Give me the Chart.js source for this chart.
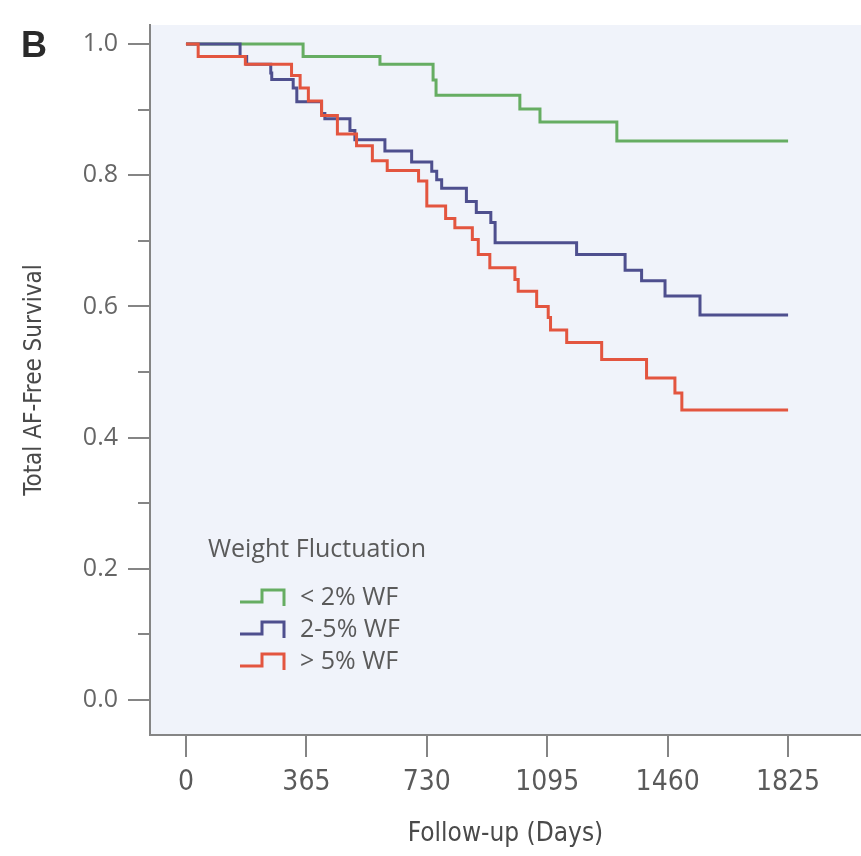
<!DOCTYPE html>
<html>
<head>
<meta charset="utf-8">
<script src="https://cdn.jsdelivr.net/npm/chart.js@4.4.1/dist/chart.umd.min.js"></script>
<style>
  html, body { margin: 0; padding: 0; background: #fff; }
  #wrap { width: 861px; height: 856px; position: relative; }
</style>
</head>
<body>
<div id="wrap"><canvas id="km"></canvas></div>
<script>
// day of each step, and AF-free survival from that day on
const lowDays = [0, 355, 588, 749, 758, 1012, 1073, 1306, 1825];
const lowSurv = [1.0, 0.981, 0.969, 0.945, 0.922, 0.901, 0.881, 0.852, 0.852];

const midDays = [0, 164, 184, 257, 260, 325, 336, 411, 421, 497, 512, 603, 684, 745, 760, 775,
  850, 880, 924, 937, 1184, 1331, 1381, 1452, 1558, 1825];
const midSurv = [1.0, 0.981, 0.969, 0.956, 0.946, 0.933, 0.912, 0.894, 0.886, 0.868, 0.854, 0.837, 0.820, 0.806, 0.793, 0.780,
  0.760, 0.743, 0.728, 0.697, 0.679, 0.655, 0.639, 0.616, 0.587, 0.587];

const highDays = [0, 37, 180, 320, 346, 371, 411, 459, 517, 565, 610, 705, 730, 787, 815, 868, 886,
  921, 997, 1007, 1063, 1098, 1105, 1154, 1260, 1396, 1482, 1503, 1825];
const highSurv = [1.0, 0.981, 0.969, 0.952, 0.933, 0.913, 0.891, 0.863, 0.845, 0.822, 0.807, 0.791, 0.753, 0.734, 0.720, 0.702, 0.679,
  0.659, 0.641, 0.623, 0.600, 0.583, 0.564, 0.545, 0.519, 0.491, 0.468, 0.442, 0.442];

const groupLabels = ['< 2% WF', '2-5% WF', '> 5% WF'];
const groupColors = ['#66ad62', '#4e4f8e', '#e3553f'];

const xTicks = [0, 365, 730, 1095, 1460, 1825];
const yMajor = [0, 0.2, 0.4, 0.6, 0.8, 1.0];
const yMinor = [0.1, 0.3, 0.5, 0.7, 0.9];

const axisGray = '#858585';
const textGray = '#5a5a5a';
const narrow = "'Liberation Sans Narrow', 'DejaVu Sans Condensed', 'Roboto', sans-serif";

function steps(days, surv) {
  return days.map((d, i) => ({ x: d, y: surv[i] }));
}

// light panel behind the curves
const plotBg = {
  id: 'plotBg',
  beforeDraw(chart) {
    const { ctx, chartArea: a } = chart;
    ctx.save();
    ctx.fillStyle = '#f0f3fa';
    ctx.fillRect(a.left, a.top, a.right - a.left, a.bottom - a.top);
    ctx.restore();
  }
};

// minor ticks, panel letter and the legend inside the plot
const extras = {
  id: 'extras',
  afterDraw(chart) {
    const { ctx, chartArea: a, scales: { y } } = chart;
    ctx.save();
    ctx.strokeStyle = axisGray;
    ctx.lineWidth = 2;
    yMinor.forEach(v => {
      const py = Math.round(y.getPixelForValue(v));
      ctx.beginPath();
      ctx.moveTo(a.left - 12, py);
      ctx.lineTo(a.left, py);
      ctx.stroke();
    });

    ctx.fillStyle = '#2a2a2a';
    ctx.font = "bold 36px 'Liberation Sans'";
    ctx.textBaseline = 'alphabetic';
    ctx.textAlign = 'left';
    ctx.fillText('B', 21, 57);

    // legend
    ctx.fillStyle = textGray;
    ctx.font = "25px 'Open Sans'";
    ctx.textBaseline = 'middle';
    ctx.fillText('Weight Fluctuation', a.left + 58, 550);
    chart.data.datasets.forEach((ds, i) => {
      const cy = 598 + i * 32;
      const x0 = a.left + 90;
      ctx.strokeStyle = ds.borderColor;
      ctx.lineWidth = 3;
      ctx.beginPath();
      ctx.moveTo(x0, cy + 4);
      ctx.lineTo(x0 + 22, cy + 4);
      ctx.lineTo(x0 + 22, cy - 8);
      ctx.lineTo(x0 + 44, cy - 8);
      ctx.lineTo(x0 + 44, cy + 8);
      ctx.stroke();
      ctx.fillStyle = textGray;
      ctx.fillText(ds.label, a.left + 150, cy);
    });
    ctx.restore();
  }
};

new Chart(document.getElementById('km'), {
  type: 'line',
  data: {
    datasets: [
      { label: groupLabels[0], data: steps(lowDays, lowSurv), borderColor: groupColors[0], order: 3 },
      { label: groupLabels[1], data: steps(midDays, midSurv), borderColor: groupColors[1], order: 2 },
      { label: groupLabels[2], data: steps(highDays, highSurv), borderColor: groupColors[2], order: 1 }
    ].map(ds => Object.assign(ds, { borderWidth: 3, pointRadius: 0, stepped: 'before', fill: false, tension: 0 }))
  },
  options: {
    responsive: true,
    maintainAspectRatio: false,
    animation: false,
    layout: { padding: { top: 25, right: 0, left: 0, bottom: 0 } },
    plugins: { legend: { display: false }, tooltip: { enabled: false } },
    scales: {
      x: {
        type: 'linear',
        min: -109,
        max: 2046,
        afterBuildTicks: s => { s.ticks = xTicks.map(v => ({ value: v })); },
        afterFit: s => { s.height = 121; },
        grid: { drawOnChartArea: false, drawTicks: true, tickLength: 22, color: axisGray, lineWidth: 2 },
        border: { display: true, color: axisGray, width: 2 },
        ticks: { color: textGray, padding: 9, maxRotation: 0, callback: v => String(v), font: { family: narrow, size: 28 } },
        title: { display: true, text: 'Follow-up (Days)', color: '#4a4a4a', padding: { top: 8, bottom: 6 },
          font: { family: narrow, size: 26, lineHeight: 1.2 } }
      },
      y: {
        min: -0.0534,
        max: 1.029,
        afterBuildTicks: s => { s.ticks = yMajor.map(v => ({ value: v })); },
        afterFit: s => { s.width = 150; },
        grid: { drawOnChartArea: false, drawTicks: true, tickLength: 22, color: axisGray, lineWidth: 2 },
        border: { display: true, color: axisGray, width: 2 },
        ticks: { color: '#666', padding: 10, callback: v => v.toFixed(1), font: { family: "'Open Sans'", size: 25 } },
        title: { display: true, text: 'Total AF-Free Survival', color: '#4a4a4a', padding: { top: 20, bottom: 0 },
          font: { family: narrow, size: 24, lineHeight: 1.2 } }
      }
    }
  },
  plugins: [plotBg, extras]
});
</script>
</body>
</html>
